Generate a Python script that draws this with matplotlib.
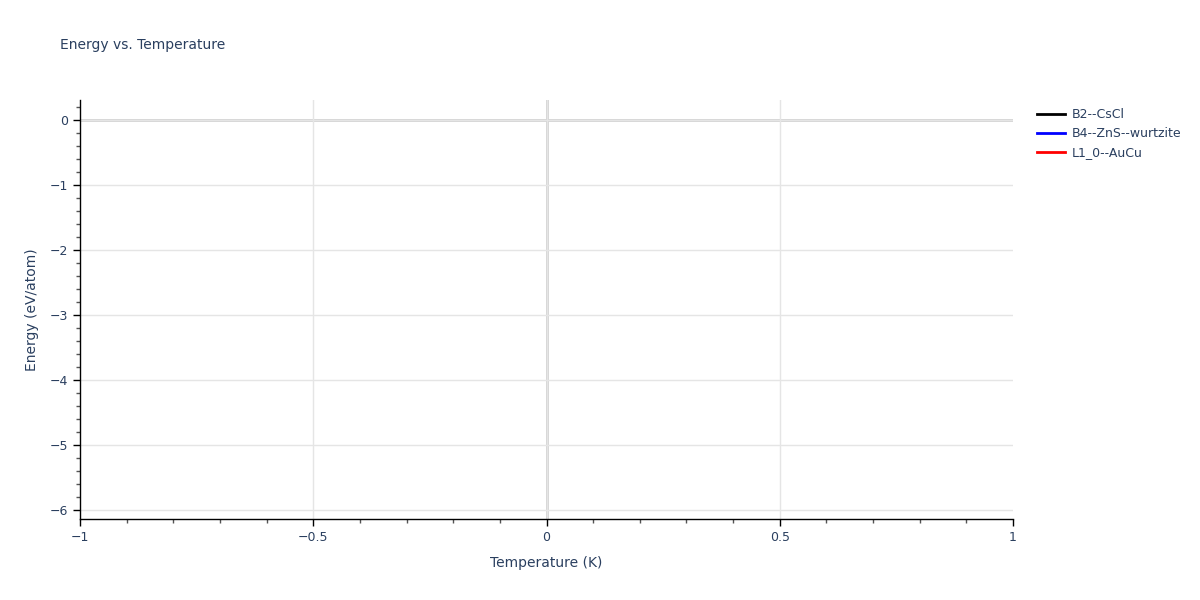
import matplotlib
matplotlib.use('Agg')
import matplotlib.pyplot as plt
from matplotlib.ticker import MultipleLocator
from matplotlib.lines import Line2D

# one point per structure, at T = 0 K (single points, so no visible line)
names = ['B2--CsCl', 'B4--ZnS--wurtzite', 'L1_0--AuCu']
colors = ['black', 'blue', 'red']
temps = [[0], [0], [0]]
energies = [[-5.83], [-3.2], [0.0]]

txt = '#2a3f5f'
plt.rcParams['font.family'] = ['DejaVu Sans']

fig = plt.figure(figsize=(12, 6), dpi=100)
ax = fig.add_axes([80/1200, 81/600, 933/1200, 419/600])

for n, c, t, e in zip(names, colors, temps, energies):
    ax.plot(t, e, color=c, lw=2, label=n)

ax.set_xlim(-1, 1)
ax.set_ylim(-6.14, 0.31)

ax.xaxis.set_major_locator(MultipleLocator(0.5))
ax.xaxis.set_minor_locator(MultipleLocator(0.1))
ax.yaxis.set_major_locator(MultipleLocator(1))
ax.yaxis.set_minor_locator(MultipleLocator(0.2))
ax.xaxis.set_major_formatter(plt.FuncFormatter(lambda v, p: ('%g' % v).replace('-', '\u2212')))
ax.yaxis.set_major_formatter(plt.FuncFormatter(lambda v, p: ('%g' % v).replace('-', '\u2212')))

ax.grid(True, which='major', color='#e5e5e5', lw=1)
ax.axhline(0, color='#d0d0d0', lw=2, zorder=1)
ax.axvline(0, color='#d0d0d0', lw=2, zorder=1)

fig.canvas.draw()
for tick in ax.xaxis.get_major_ticks():
    if abs(abs(tick.get_loc()) - 1) < 1e-9:
        tick.gridline.set_visible(False)

for s in ['top', 'right']:
    ax.spines[s].set_visible(False)
for s in ['left', 'bottom']:
    ax.spines[s].set_color('black')
    ax.spines[s].set_linewidth(1)

ax.tick_params(which='major', direction='out', length=5, width=1, colors='black',
               labelcolor=txt, labelsize=9)
ax.tick_params(which='minor', direction='out', length=3, width=1, colors='#555555')

ax.set_xlabel('Temperature (K)', color=txt, fontsize=10, labelpad=9)
ax.set_ylabel('Energy (eV/atom)', color=txt, fontsize=10, labelpad=8)
fig.text(60/1200, 1 - 45/600, 'Energy vs. Temperature', color=txt, fontsize=10, va='center')

handles = [Line2D([], [], color=c, lw=2) for c in colors]
leg = fig.legend(handles, names, loc='upper left', bbox_to_anchor=(1037/1200, 1 - 108/600),
                 frameon=False, fontsize=9, handlelength=2.2, handletextpad=0.6,
                 labelspacing=0.48, borderpad=0, borderaxespad=0)
for t in leg.get_texts():
    t.set_color(txt)

fig.savefig('out.png', dpi=100)
